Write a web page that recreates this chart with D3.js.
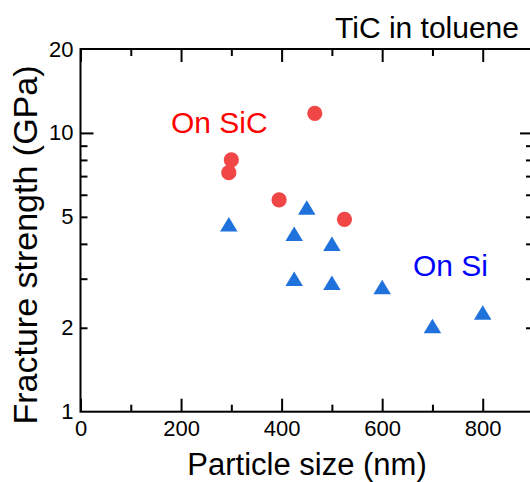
<!DOCTYPE html>
<html>
<head>
<meta charset="utf-8">
<script src="https://cdn.jsdelivr.net/npm/d3@7"></script>
<style>
  body { margin: 0; background: #fff; }
  svg text { font-family: Arial, "Liberation Sans", sans-serif; fill: #000; }
</style>
</head>
<body>
<div id="chart"></div>
<script>
// particles deposited on SiC substrate
const sicSize = [466, 300, 295, 395, 525]
const sicStrength = [11.75, 8.0, 7.2, 5.75, 4.9]

// particles deposited on Si substrate
const siSize = [295, 450, 425, 500, 425, 500, 600, 700, 800]
const siStrength = [4.7, 5.4, 4.35, 4.0, 3.0, 2.9, 2.8, 2.03, 2.27]

// ticks
const xMajor = [0, 200, 400, 600, 800]
const xMinor = [100, 300, 500, 700]
const yLabels = [1, 2, 5, 10, 20]
const yMinor = [2, 3, 4, 5, 6, 7, 8, 9]
const yMajor = [10]

const margin = { top: 49, right: 0, bottom: 70, left: 80.5 }
const W = 530, H = 482
const width = 452.5
const height = 362.7

const svg = d3.select("#chart").append("svg")
    .attr("width", W)
    .attr("height", H)

const g = svg.append("g")
    .attr("transform", "translate(" + margin.left + "," + margin.top + ")")

const x = d3.scaleLinear().domain([0, 900]).range([0, width])
const y = d3.scaleLog().domain([1, 20]).range([height, 0])

const tickStyle = sel => {
    sel.select(".domain").remove()
    sel.selectAll("line").attr("stroke", "#000").attr("stroke-width", 2)
}

// x ticks, bottom and top, pointing inward
g.append("g").attr("transform", "translate(0," + height + ")")
    .call(d3.axisBottom(x).tickValues(xMajor).tickSize(-13).tickPadding(9))
    .call(tickStyle)
    .selectAll("text").style("font-size", "22px")
g.append("g").attr("transform", "translate(0," + height + ")")
    .call(d3.axisBottom(x).tickValues(xMinor).tickSize(-7).tickFormat(""))
    .call(tickStyle)
g.append("g")
    .call(d3.axisTop(x).tickValues(xMajor).tickSize(-13).tickFormat(""))
    .call(tickStyle)
g.append("g")
    .call(d3.axisTop(x).tickValues(xMinor).tickSize(-7).tickFormat(""))
    .call(tickStyle)

// y ticks, left and right
g.append("g")
    .call(d3.axisLeft(y).tickValues(yLabels).tickSize(0).tickPadding(7).tickFormat(d3.format("d")))
    .call(tickStyle)
    .selectAll("text").style("font-size", "22px")
g.append("g")
    .call(d3.axisLeft(y).tickValues(yMajor).tickSize(-13).tickFormat(""))
    .call(tickStyle)
g.append("g")
    .call(d3.axisLeft(y).tickValues(yMinor).tickSize(-7).tickFormat(""))
    .call(tickStyle)
g.append("g").attr("transform", "translate(" + width + ",0)")
    .call(d3.axisRight(y).tickValues(yMajor).tickSize(-13).tickFormat(""))
    .call(tickStyle)
g.append("g").attr("transform", "translate(" + width + ",0)")
    .call(d3.axisRight(y).tickValues(yMinor).tickSize(-7).tickFormat(""))
    .call(tickStyle)

// frame
g.append("rect")
    .attr("width", width)
    .attr("height", height)
    .attr("fill", "none")
    .attr("stroke", "#000")
    .attr("stroke-width", 2)

// triangle centred on its bounding box
const tri = (w, h) => `M0,${-h / 2}L${w / 2},${h / 2}L${-w / 2},${h / 2}Z`

g.selectAll(".si")
    .data(siSize.map((s, i) => ({ size: s, strength: siStrength[i] })))
    .enter()
    .append("path")
    .attr("class", "si")
    .attr("d", tri(17.5, 14.5))
    .attr("transform", d => "translate(" + x(d.size) + "," + y(d.strength) + ")")
    .attr("fill", "#1f72dc")

g.selectAll(".sic")
    .data(sicSize.map((s, i) => ({ size: s, strength: sicStrength[i] })))
    .enter()
    .append("circle")
    .attr("class", "sic")
    .attr("cx", d => x(d.size))
    .attr("cy", d => y(d.strength))
    .attr("r", 7.6)
    .attr("fill", "#f14646")

// annotations
svg.append("text")
    .attr("x", 171).attr("y", 133)
    .style("font-size", "30px")
    .style("fill", "#ff0000")
    .text("On SiC")

svg.append("text")
    .attr("x", 413).attr("y", 276)
    .style("font-size", "30px")
    .style("fill", "#0000ff")
    .text("On Si")

svg.append("text")
    .attr("x", 335).attr("y", 38)
    .style("font-size", "30px")
    .text("TiC in toluene")

// axis titles
svg.append("text")
    .attr("x", 307).attr("y", 475)
    .attr("text-anchor", "middle")
    .style("font-size", "31px")
    .text("Particle size (nm)")

svg.append("text")
    .attr("transform", "translate(37,245) rotate(-90)")
    .attr("text-anchor", "middle")
    .style("font-size", "34px")
    .text("Fracture strength (GPa)")
</script>
</body>
</html>
